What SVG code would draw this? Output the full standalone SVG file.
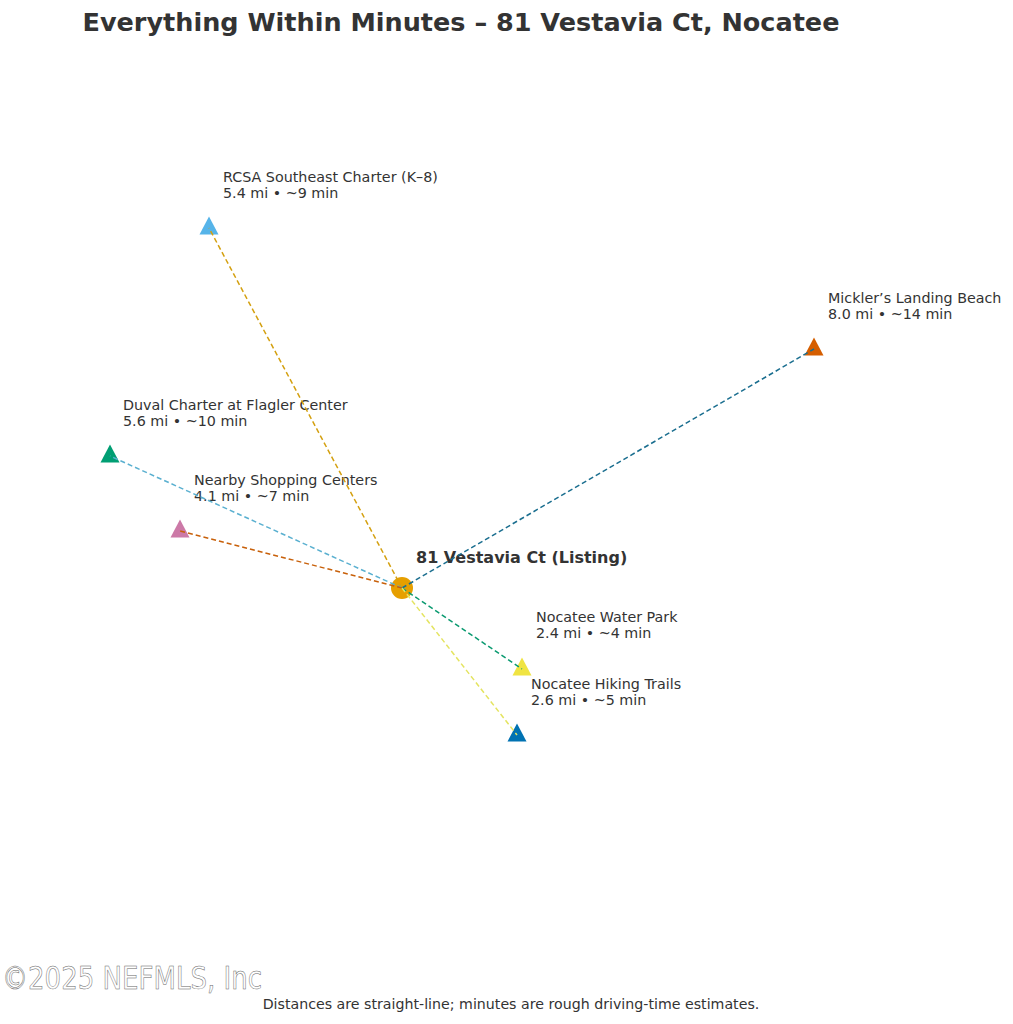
<svg xmlns="http://www.w3.org/2000/svg" width="1013" height="1024" viewBox="0 0 1013 1024">
<style>
text{font-family:"DejaVu Sans","Liberation Sans",sans-serif;fill:#333}
.t{font-size:25.5px;font-weight:bold}
.l{font-size:14.3px}
.c{font-size:16px;font-weight:bold}
.f{font-size:14.2px}
.w{font-family:"DejaVu Sans Condensed","DejaVu Sans",sans-serif;font-weight:200;font-size:32px;fill:#fff;stroke:#666;stroke-width:0.5}
.cn line{stroke-width:1.5;stroke-dasharray:5,3;fill:none}
</style>
<rect width="1013" height="1024" fill="#fff"/>
<text class="t" x="461" y="31" text-anchor="middle">Everything Within Minutes – 81 Vestavia Ct, Nocatee</text>

<g id="node-listing"><circle cx="402" cy="588" r="11" fill="#E69F00"/><text class="c" x="416" y="563">81 Vestavia Ct (Listing)</text></g>

<g id="node-rcsa"><polygon points="209,216.5 199.5,234.5 218.5,234.5" fill="#56B4E9"/><text class="l" x="223" y="182">RCSA Southeast Charter (K–8)</text><text class="l" x="223" y="198">5.4 mi • ~9 min</text></g>
<g id="node-mickler"><polygon points="814,337.5 804.5,355.5 823.5,355.5" fill="#D55E00"/><text class="l" x="828" y="303">Mickler’s Landing Beach</text><text class="l" x="828" y="319">8.0 mi • ~14 min</text></g>
<g id="node-duval"><polygon points="110,444.5 100.5,462.5 119.5,462.5" fill="#009E73"/><text class="l" x="123" y="410">Duval Charter at Flagler Center</text><text class="l" x="123" y="426">5.6 mi • ~10 min</text></g>
<g id="node-shopping"><polygon points="180,519.5 170.5,537.5 189.5,537.5" fill="#CC79A7"/><text class="l" x="194" y="485">Nearby Shopping Centers</text><text class="l" x="194" y="501">4.1 mi • ~7 min</text></g>
<g id="node-waterpark"><polygon points="522,657.5 512.5,675.5 531.5,675.5" fill="#F0E442"/><text class="l" x="536" y="622">Nocatee Water Park</text><text class="l" x="536" y="638">2.4 mi • ~4 min</text></g>
<g id="node-hiking"><polygon points="517,723.5 507.5,741.5 526.5,741.5" fill="#0072B2"/><text class="l" x="531" y="689">Nocatee Hiking Trails</text><text class="l" x="531" y="705">2.6 mi • ~5 min</text></g>

<g id="connectors" class="cn">
<line x1="402" y1="588" x2="209" y2="228" stroke="#D4A010"/>
<line x1="402" y1="588" x2="814" y2="349" stroke="#1A6E8F"/>
<line x1="402" y1="588" x2="110" y2="456" stroke="#5AB0D0"/>
<line x1="402" y1="588" x2="180" y2="531" stroke="#C8600A"/>
<line x1="402" y1="588" x2="522" y2="669" stroke="#0A9A70"/>
<line x1="402" y1="588" x2="517" y2="735" stroke="#E4E460"/>
</g>

<text class="w" x="2" y="989" textLength="260" lengthAdjust="spacingAndGlyphs">©2025 NEFMLS, Inc</text>
<text class="f" x="511" y="1009" text-anchor="middle">Distances are straight-line; minutes are rough driving-time estimates.</text>
</svg>
